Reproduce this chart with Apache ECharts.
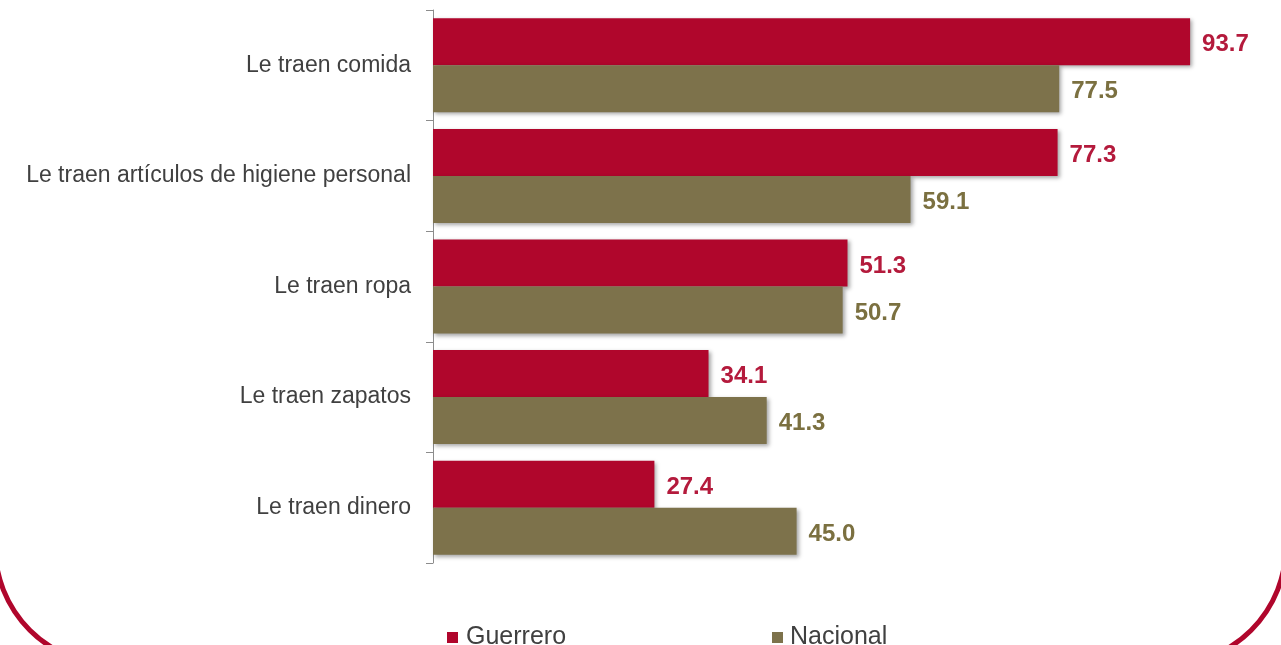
<!DOCTYPE html>
<html>
<head>
<meta charset="utf-8">
<script src="https://cdn.jsdelivr.net/npm/echarts@6/dist/echarts.min.js"></script>
<style>html,body{margin:0;padding:0;background:#fff;}#c{width:1281px;height:645px;}</style>
</head>
<body>
<div id="c"></div>
<script>
const categories = ["Le traen comida", "Le traen artículos de higiene personal", "Le traen ropa", "Le traen zapatos", "Le traen dinero"];
const guerrero = [93.7, 77.3, 51.3, 34.1, 27.4];
const nacional = [77.5, 59.1, 50.7, 41.3, 45.0];
const seriesNames = ["Guerrero", "Nacional"];

const RED = "#b0062c", OLIVE = "#7d724b";
const chart = echarts.init(document.getElementById('c'), null, {renderer: 'canvas'});
const shadow = {shadowColor: 'rgba(0,0,0,0.35)', shadowBlur: 4, shadowOffsetX: 2, shadowOffsetY: 2};
function labelFmt(p){ return p.value.toFixed(1); }
chart.setOption({
  animation: false,
  backgroundColor: '#fff',
  textStyle: {fontFamily: 'Liberation Sans, Arial, sans-serif'},
  grid: {left: 433, right: 40, top: 10, bottom: 82, containLabel: false},
  xAxis: {type: 'value', min: 0, max: 100, show: false},
  yAxis: {
    type: 'category', data: categories, inverse: true,
    axisLine: {show: true, lineStyle: {color: '#8c8c8c', width: 1}},
    axisTick: {show: true, length: 7, lineStyle: {color: '#8c8c8c'}},
    axisLabel: {margin: 22, color: '#404040', fontSize: 23, fontFamily: 'Liberation Sans, Arial, sans-serif'}
  },
  legend: [
    {data: [seriesNames[0]], left: 442, top: 620, icon: 'rect', itemWidth: 11, itemHeight: 11, itemGap: 6,
     textStyle: {fontSize: 25, color: '#404040', padding: [0,0,0,3]}},
    {data: [seriesNames[1]], left: 767, top: 620, icon: 'rect', itemWidth: 11, itemHeight: 11, itemGap: 6,
     textStyle: {fontSize: 25, color: '#404040', padding: [0,0,0,2]}}
  ],
  series: [
    {name: seriesNames[0], type: 'bar', data: guerrero, barGap: '0%', barCategoryGap: '15%',
     itemStyle: Object.assign({color: RED}, shadow),
     label: {show: true, position: 'right', distance: 12, offset: [0, 3], formatter: labelFmt, color: '#b41a3c', fontSize: 24, fontWeight: 'bold'}},
    {name: seriesNames[1], type: 'bar', data: nacional, barGap: '0%', barCategoryGap: '15%',
     itemStyle: Object.assign({color: OLIVE}, shadow),
     label: {show: true, position: 'right', distance: 12, offset: [0, 3], formatter: labelFmt, color: '#7b7040', fontSize: 24, fontWeight: 'bold'}}
  ],
  graphic: [{
    type: 'rect', silent: true, z: 100,
    shape: {x: -5, y: -300, width: 1291, height: 965, r: 119},
    style: {fill: 'none', stroke: '#b0062c', lineWidth: 5}
  }]
});
</script>
</body>
</html>
